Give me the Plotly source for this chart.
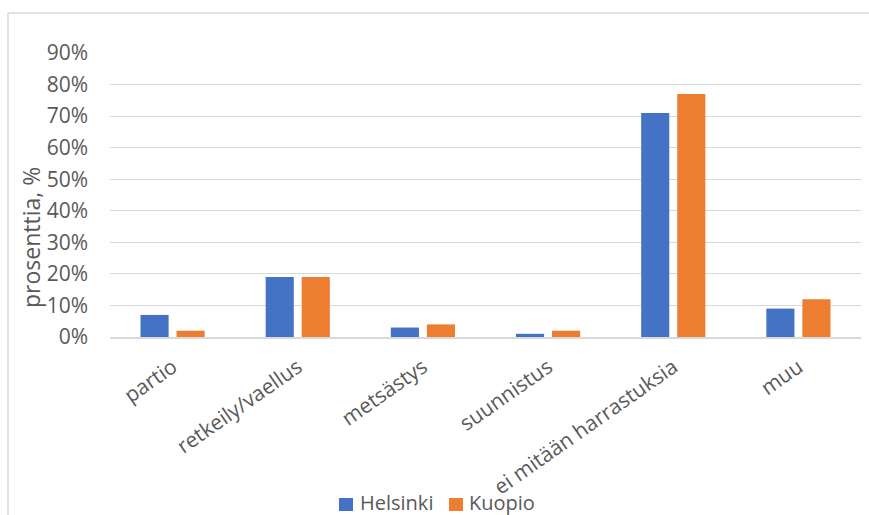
import plotly.graph_objects as go

# Survey data: share of respondents by hobby, per city
categories = ["partio", "retkeily/vaellus", "metsästys", "suunnistus",
              "ei mitään harrastuksia", "muu"]
series_names = ["Helsinki", "Kuopio"]
helsinki = [0.07, 0.19, 0.03, 0.01, 0.71, 0.09]
kuopio = [0.02, 0.19, 0.04, 0.02, 0.77, 0.12]
y_ticks = [0, 0.1, 0.2, 0.3, 0.4, 0.5, 0.6, 0.7, 0.8, 0.9]
colors = ["#4472C4", "#ED7D31"]

FONT = "Open Sans"
TEXT = "#595959"
GRID = "#d9d9d9"

W, H = 869, 515
L, R, T, B = 110, 8, 53, 178
pw, ph = W - L - R, H - T - B


def px_x(x):
    return (x - L) / pw


def px_y(y):
    return (H - B - y) / ph


fig = go.Figure()
for name, vals, col in zip(series_names, [helsinki, kuopio], colors):
    fig.add_bar(name=name, x=categories, y=vals, marker_color=col,
                marker_line_width=0)

fig.update_layout(
    width=W, height=H,
    margin=dict(l=L, r=R, t=T, b=B, autoexpand=False),
    paper_bgcolor="white", plot_bgcolor="white",
    barmode="group", bargap=0.424, bargroupgap=0.22,
    font=dict(family=FONT, size=20, color=TEXT),
    showlegend=False,
)
fig.update_xaxes(
    showgrid=False, showline=True, linecolor=GRID, linewidth=1.5,
    tickangle=-35, tickfont=dict(size=21, color=TEXT), ticks="",
    ticklabelstandoff=8, automargin=False,
)
fig.update_yaxes(
    range=[0, 0.9], tickvals=y_ticks, tickformat=".0%",
    showgrid=True, gridcolor=GRID, gridwidth=1.3, zeroline=False,
    showline=False, ticks="", ticklabelstandoff=21,
    tickfont=dict(size=21, color=TEXT), automargin=False,
)

# Y-axis title
fig.add_annotation(
    text="prosenttia, %", textangle=-90, showarrow=False,
    xref="paper", yref="paper", x=px_x(31), y=px_y(238),
    xanchor="center", yanchor="middle",
    font=dict(size=23, color=TEXT),
)

# Legend below the chart: colour square followed by series name
legend_pos = [(339, 359), (449, 468)]
for name, col, (sx, tx) in zip(series_names, colors, legend_pos):
    fig.add_shape(type="rect", xref="paper", yref="paper",
                  x0=px_x(sx), x1=px_x(sx + 14),
                  y0=px_y(511), y1=px_y(498),
                  fillcolor=col, line_width=0)
    fig.add_annotation(text=name, showarrow=False, xref="paper", yref="paper",
                       x=px_x(tx), y=px_y(502.5), xanchor="left",
                       yanchor="middle", font=dict(size=20, color=TEXT),
                       borderpad=0)

# Chart frame (top and left edges)
fig.add_shape(type="line", xref="paper", yref="paper",
              x0=px_x(8), x1=px_x(W + 5), y0=px_y(13), y1=px_y(13),
              line=dict(color=GRID, width=1.5))
fig.add_shape(type="line", xref="paper", yref="paper",
              x0=px_x(8), x1=px_x(8), y0=px_y(13), y1=px_y(H + 5),
              line=dict(color=GRID, width=1.5))

fig.write_html("out.html")
